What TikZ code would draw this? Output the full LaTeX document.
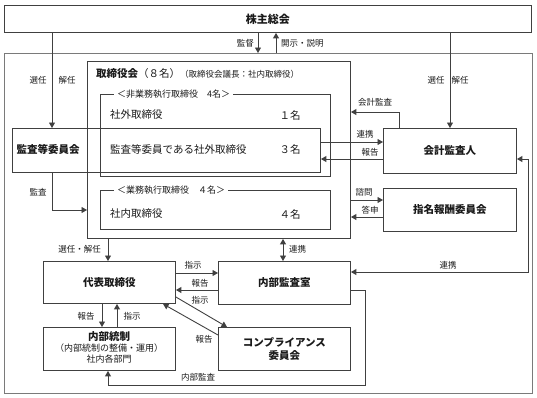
\documentclass[tikz,border=0pt]{standalone}
\usepackage{fontspec}
\setmainfont{Noto Sans CJK JP}
\usetikzlibrary{arrows.meta}
\definecolor{ln}{HTML}{404040}
\definecolor{framec}{HTML}{7A7A7A}
\definecolor{txt}{HTML}{1A1A1A}
\begin{document}
\begin{tikzpicture}[x=1pt,y=-1pt,
  box/.style={draw=ln, line width=0.9pt, anchor=north west, inner sep=0pt, text=txt,
    font=\fontsize{10.5}{13}\selectfont\bfseries, align=center},
  conn/.style={draw=ln, line width=0.9pt, -{Triangle[length=5.5pt,width=6pt]}},
  conn2/.style={draw=ln, line width=0.9pt, {Triangle[length=5.5pt,width=6pt]}-{Triangle[length=5.5pt,width=6pt]}},
  lbl/.style={font=\fontsize{8.5}{10}\selectfont, text=txt, inner sep=1pt},
  rowtxt/.style={font=\fontsize{10.5}{12}\selectfont, text=txt, anchor=west, inner sep=0pt},
  numtxt/.style={font=\fontsize{10.5}{12}\selectfont, text=txt, inner sep=0pt},
  grp/.style={font=\fontsize{9}{10}\selectfont, text=txt, anchor=west, fill=white, inner xsep=3pt, inner ysep=1pt}]
\useasboundingbox (0,0) rectangle (537,397);

% boxes
\node[box, minimum width=527pt, minimum height=27pt, font=\fontsize{11}{13}\selectfont\bfseries] (soukai) at (4,5) {株主総会};
\node[draw=framec, line width=0.8pt, anchor=north west, inner sep=0pt, minimum width=528pt, minimum height=340pt] (company) at (4,53) {};
\node[box, minimum width=263pt, minimum height=177pt] (board) at (87,61) {};
\node[box, minimum width=230pt, minimum height=82pt] (nonexec) at (100,94) {};
\node[box, minimum width=308pt, minimum height=44pt] (kansatou) at (12,128) {};
\node[box, minimum width=230pt, minimum height=39pt] (exec) at (100,190) {};
\node[box, minimum width=133pt, minimum height=45pt] (kaikei) at (383,128) {会計監査人};
\node[box, minimum width=133pt, minimum height=43pt] (shimei) at (383,188) {指名報酬委員会};
\node[box, minimum width=132pt, minimum height=42pt] (daihyo) at (43,261) {代表取締役};
\node[box, minimum width=132pt, minimum height=43pt] (naibu) at (218,261) {内部監査室};
\node[box, minimum width=132pt, minimum height=43pt] (tousei) at (43,327) {};
\node[box, minimum width=132pt, minimum height=43pt] (comp) at (218,327) {コンプライアンス\\委員会};

% texts inside board
\node[rowtxt, anchor=west] (boardtitle) at (96,74) {\textbf{取締役会}（８名）{\fontsize{8.5}{10}\selectfont（取締役会議長：社内取締役）}};
\node[grp] (nonexeclbl) at (nonexec.north west) [xshift=14pt] {＜非業務執行取締役　4名＞};
\node[rowtxt] (shagai) at (110,115) {社外取締役};
\node[numtxt] (n1) at (290,115) {１名};
\node[rowtxt] (kansashagai) at (110,149) {監査等委員である社外取締役};
\node[numtxt] (n3) at (290,149) {３名};
\node[box, draw=none, anchor=center] (kansatoulbl) at (48,149) {監査等委員会};
\node[grp] (execlbl) at (exec.north west) [xshift=14pt] {＜業務執行取締役　４名＞};
\node[rowtxt] (shanai) at (110,214) {社内取締役};
\node[numtxt] (n4) at (290,214) {４名};

% 内部統制 text
\node[box, draw=none, anchor=center] (touseit) at (109,337) {内部統制};
\node[numtxt, font=\fontsize{9}{11}\selectfont, align=center] (touseisub) at (109,354) {（内部統制の整備・運用）\\社内各部門};

% coordinates for bends
\coordinate (rc) at (528,272);
\coordinate (ia1) at (365,290);
\coordinate (ia2) at (365,385);
\coordinate (ia3) at (108,385);

% connectors
\draw[conn] (soukai.south -| 258,0) -- (company.north -| 258,0);
\draw[conn] (company.north -| 276,0) -- (soukai.south -| 276,0);
\draw[conn] (soukai.south -| 52,0) -- (kansatou.north -| 52,0);
\draw[conn] (soukai.south -| 450,0) -- (kaikei.north -| 450,0);
\draw[conn] (kaikei.north -| 399,0) |- (board.east |- 0,112);
\draw[conn] (kansatou.east |- 0,142) -- (kaikei.west |- 0,142);
\draw[conn] (kaikei.west |- 0,159) -- (kansatou.east |- 0,159);
\draw[conn] (kansatou.south -| 52,0) |- (board.west |- 0,210);
\draw[conn] (board.east |- 0,200) -- (shimei.west |- 0,200);
\draw[conn] (shimei.west |- 0,217) -- (board.east |- 0,217);
\draw[conn] (board.south -| 108,0) -- (daihyo.north -| 108,0);
\draw[conn2] (board.south -| 283,0) -- (naibu.north -| 283,0);
\draw[conn2] (kaikei.east |- 0,159) -| (rc) -- (naibu.east |- rc);
\draw[conn] (daihyo.east |- 0,273) -- (naibu.west |- 0,273);
\draw[conn] (naibu.west |- 0,290) -- (daihyo.east |- 0,290);
\draw[conn] (daihyo.east |- 0,297) -- (comp.north -| 227,0);
\draw[conn] (comp.west |- 0,335) -- (daihyo.south -| 163,0);
\draw[conn] (daihyo.south -| 102,0) -- (tousei.north -| 102,0);
\draw[conn] (tousei.north -| 117,0) -- (daihyo.south -| 117,0);
\draw[conn] (naibu.east |- ia1) -- (ia1) -- (ia2) -- (ia3) -- (tousei.south -| ia3);

% labels
\node[lbl, anchor=east] (l1) at (255,43) {監督};
\node[lbl, anchor=west] (l2) at (280,43) {開示・説明};
\node[lbl] (l3) at (38,80) {選任};
\node[lbl] (l4) at (67,80) {解任};
\node[lbl] (l5) at (436,80) {選任};
\node[lbl] (l6) at (460,80) {解任};
\node[lbl] (l7) at (375,102) {会計監査};
\node[lbl] (l8) at (365,134) {連携};
\node[lbl] (l9) at (370,152) {報告};
\node[lbl] (l10) at (38,192) {監査};
\node[lbl] (l11) at (364,192) {諮問};
\node[lbl] (l12) at (370,210) {答申};
\node[lbl, anchor=east] (l13) at (102,249) {選任・解任};
\node[lbl, anchor=west] (l14) at (288,249) {連携};
\node[lbl] (l15) at (448,265) {連携};
\node[lbl] (l16) at (193,265) {指示};
\node[lbl] (l17) at (200,283) {報告};
\node[lbl] (l18) at (200,300) {指示};
\node[lbl] (l19) at (204,339) {報告};
\node[lbl] (l20) at (86,316) {報告};
\node[lbl] (l21) at (132,316) {指示};
\node[lbl] (l22) at (198,377) {内部監査};
\end{tikzpicture}
\end{document}
